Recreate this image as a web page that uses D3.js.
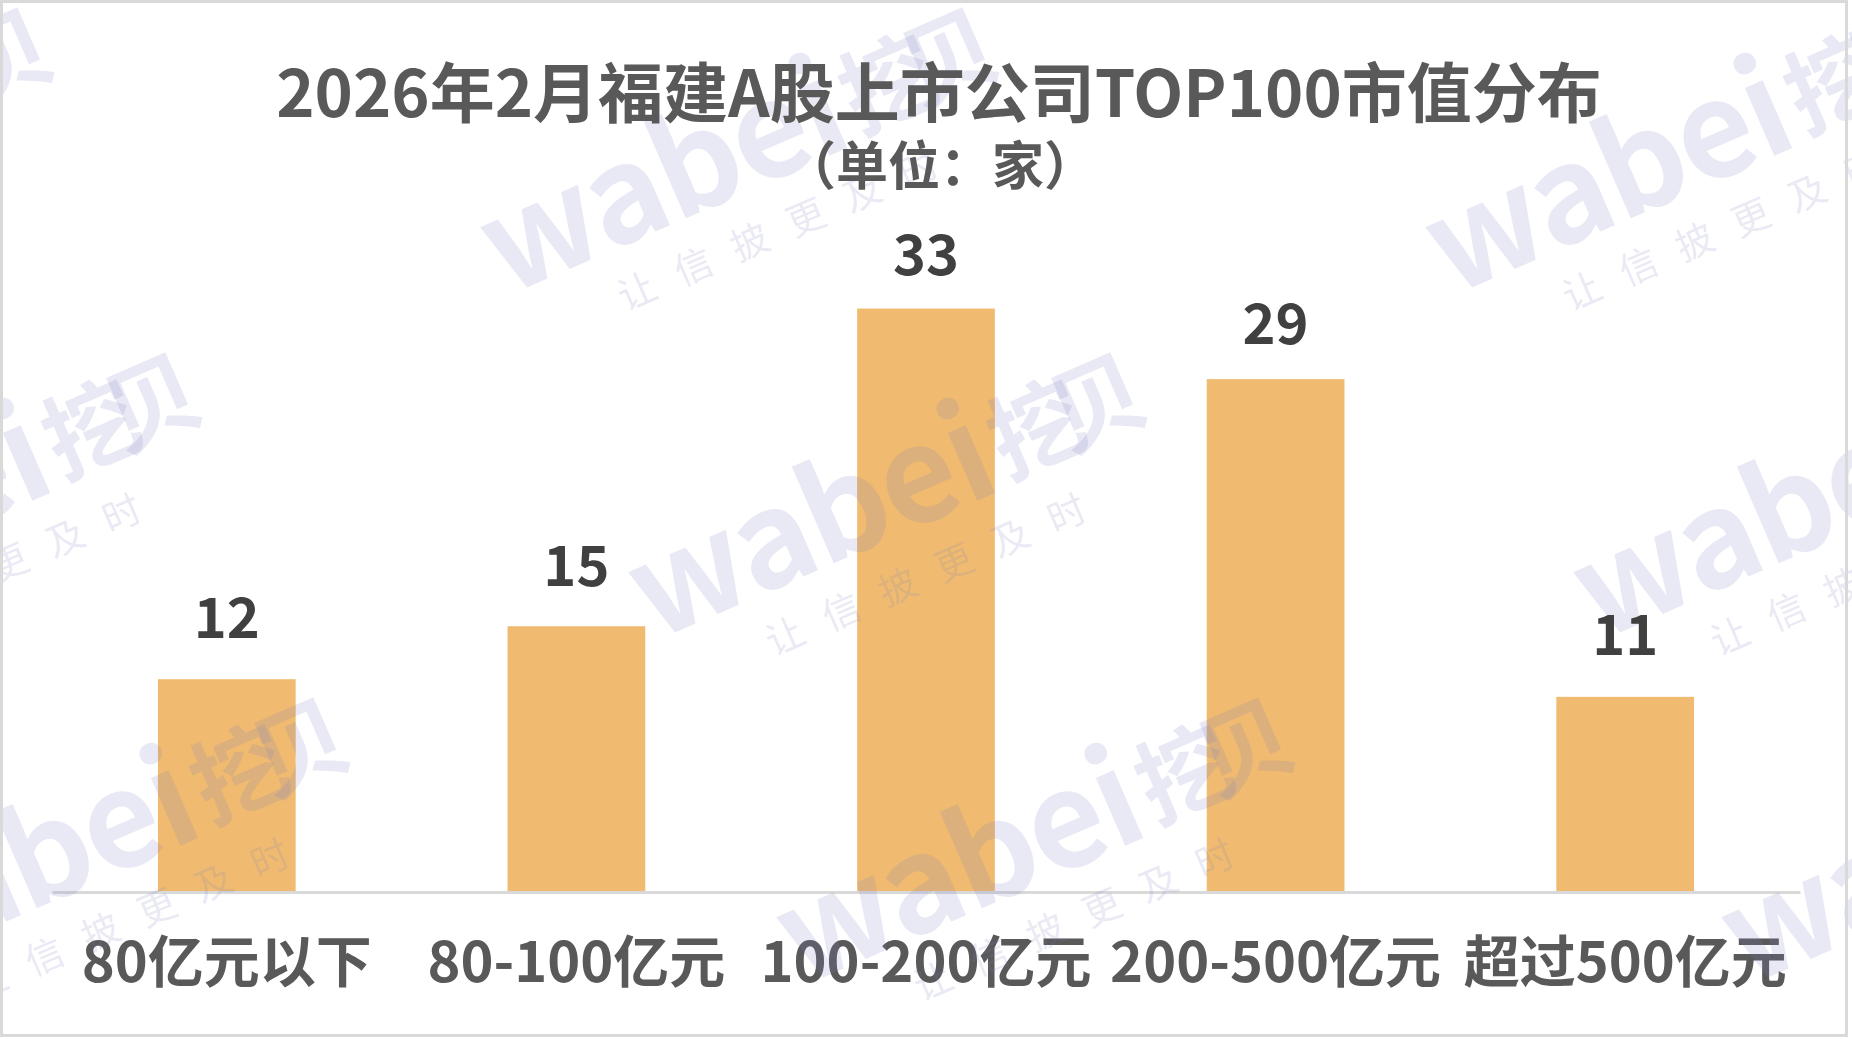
<!DOCTYPE html>
<html>
<head>
<meta charset="utf-8">
<script src="https://cdn.jsdelivr.net/npm/d3@7"></script>
<style>
  html, body { margin: 0; padding: 0; background: #ffffff; }
  svg { display: block; }
  text { font-family: "Noto Sans CJK SC", "Noto Sans", sans-serif; }
</style>
</head>
<body>
<svg id="chart" width="1852" height="1039"></svg>
<script>
// ---- data ----
const categories = ["80亿元以下", "80-100亿元", "100-200亿元", "200-500亿元", "超过500亿元"];
const counts = [12, 15, 33, 29, 11];
const titleText = "2026年2月福建A股上市公司TOP100市值分布";
const subtitleText = "（单位：家）";
const watermarkMain = "wabei";
const watermarkCn = "挖贝";
const watermarkSub = "让信披更及时";

// ---- layout ----
const W = 1852, H = 1039;
const svg = d3.select("#chart");

svg.append("rect").attr("x", 0).attr("y", 0).attr("width", W).attr("height", H).attr("fill", "#ffffff");

const x = d3.scaleBand()
  .domain(categories)
  .range([52, 1800])
  .paddingInner(0.606)
  .paddingOuter(0.303);

const y = d3.scaleLinear()
  .domain([0, 35])
  .range([891, 891 - 35 * 17.65]);

// label placement scale (labels sit slightly closer to taller bars)
const yLabel = d3.scaleLinear()
  .domain([0, 35])
  .range([845, 845 - 35 * 17.27]);

// bars
svg.append("g").selectAll("rect")
  .data(categories)
  .join("rect")
  .attr("x", d => x(d))
  .attr("y", (d, i) => y(counts[i]))
  .attr("width", x.bandwidth())
  .attr("height", (d, i) => y(0) - y(counts[i]))
  .attr("fill", "#F0BB70");

// axis
const axisG = svg.append("g")
  .attr("transform", `translate(0,${y(0) + 1})`)
  .call(d3.axisBottom(x).tickSize(0).tickSizeOuter(0));
axisG.select(".domain").attr("stroke", "#d9d9d9").attr("stroke-width", 3);
axisG.selectAll(".tick text")
  .attr("y", 90)
  .attr("dy", 0)
  .attr("fill", "#595959")
  .attr("font-size", 56)
  .attr("font-weight", 700)
  .attr("font-family", '"Noto Sans CJK SC", sans-serif');

// watermarks
const wm = svg.append("g").attr("pointer-events", "none");
const anchors = [];
for (let j = -1; j <= 2; j++) {
  for (let i = -2; i <= 2; i++) {
    anchors.push([669 + 945 * i + 148 * j, 635 + 345 * j]);
  }
}
const wmFill = "#787DBE", wmOpacity = 0.17;
anchors.forEach(([ax, ay]) => {
  const g = wm.append("g").attr("transform", `translate(${ax},${ay}) rotate(-23.5)`);
  g.append("text")
    .attr("x", -16).attr("y", 0)
    .attr("fill", wmFill).attr("fill-opacity", wmOpacity)
    .attr("font-family", '"Open Sans", sans-serif')
    .attr("font-size", 132)
    .attr("font-weight", 700)
    .attr("textLength", 382)
    .attr("lengthAdjust", "spacing")
    .text(watermarkMain);
  g.append("text")
    .attr("x", 372).attr("y", -8)
    .attr("fill", wmFill).attr("fill-opacity", wmOpacity)
    .attr("font-family", '"Noto Sans CJK SC", sans-serif')
    .attr("font-size", 94)
    .attr("font-weight", 700)
    .attr("textLength", 160)
    .attr("lengthAdjust", "spacing")
    .text(watermarkCn);
  g.append("text")
    .attr("x", 87).attr("y", 61)
    .attr("fill", wmFill).attr("fill-opacity", wmOpacity)
    .attr("font-size", 38)
    .attr("font-weight", 400)
    .attr("letter-spacing", 23.4)
    .text(watermarkSub);
});

// value labels
svg.append("g").selectAll("text")
  .data(categories)
  .join("text")
  .attr("x", d => x(d) + x.bandwidth() / 2)
  .attr("y", (d, i) => yLabel(counts[i]))
  .attr("text-anchor", "middle")
  .attr("fill", "#404040")
  .attr("font-size", 56)
  .attr("font-weight", 700)
  .text((d, i) => counts[i]);

// title
svg.append("text")
  .attr("x", 939).attr("y", 117)
  .attr("text-anchor", "middle")
  .attr("fill", "#595959")
  .attr("font-size", 65)
  .attr("font-weight", 700)
  .text(titleText);

svg.append("text")
  .attr("x", 940).attr("y", 185)
  .attr("text-anchor", "middle")
  .attr("fill", "#595959")
  .attr("font-size", 52)
  .attr("font-weight", 700)
  .text(subtitleText);

// border
svg.append("rect")
  .attr("x", 1.5).attr("y", 1.5)
  .attr("width", 1845).attr("height", 1034)
  .attr("fill", "none")
  .attr("stroke", "#d9d9d9")
  .attr("stroke-width", 3);
</script>
</body>
</html>
